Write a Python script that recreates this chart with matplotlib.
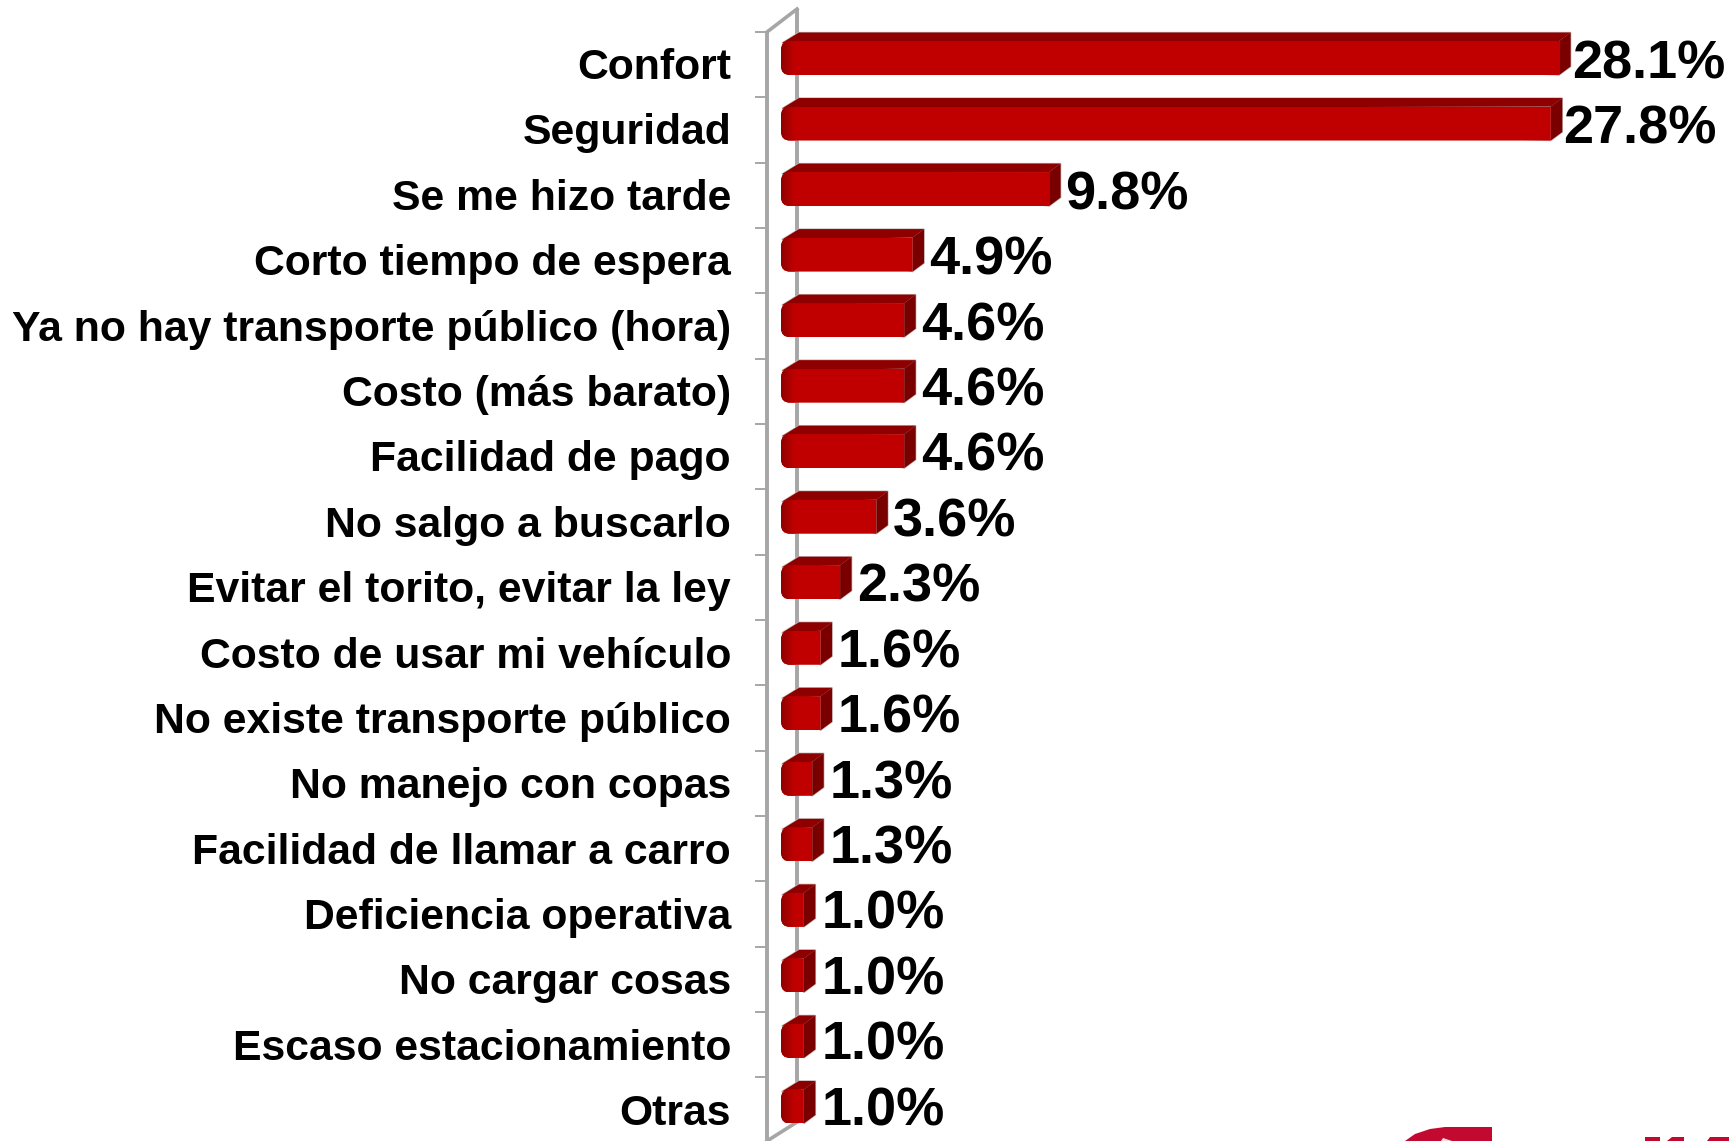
import matplotlib
matplotlib.use("Agg")
import matplotlib.pyplot as plt
import numpy as np
from matplotlib.patches import Polygon
from matplotlib.path import Path

categories = ["Confort", "Seguridad", "Se me hizo tarde", "Corto tiempo de espera",
              "Ya no hay transporte público (hora)", "Costo (más barato)", "Facilidad de pago",
              "No salgo a buscarlo", "Evitar el torito, evitar la ley", "Costo de usar mi vehículo",
              "No existe transporte público", "No manejo con copas", "Facilidad de llamar a carro",
              "Deficiencia operativa", "No cargar cosas", "Escaso estacionamiento", "Otras"]
values = [28.1, 27.8, 9.8, 4.9, 4.6, 4.6, 4.6, 3.6, 2.3, 1.6, 1.6, 1.3, 1.3, 1.0, 1.0, 1.0, 1.0]
value_labels = ["28.1%", "27.8%", "9.8%", "4.9%", "4.6%", "4.6%", "4.6%", "3.6%", "2.3%",
                "1.6%", "1.6%", "1.3%", "1.3%", "1.0%", "1.0%", "1.0%", "1.0%"]

W, H = 1729, 1141
plt.rcParams['font.family'] = ['Liberation Sans', 'DejaVu Sans']
fig = plt.figure(figsize=(W / 100, H / 100), dpi=100)

X0, PX_PER = 776.0, 27.87     # pixel of 0 %, pixels per 1 %
Y0, PX_ROW = 58.0, 65.53      # pixel of first row centre, pixels per row
ax = fig.add_axes([0, 0, 1, 1])
ax.axis("off")

def dx(p):  # pixels -> data units
    return p / PX_PER
def dy(p):
    return p / PX_ROW

FRONT, TOP, SIDE, EDGE = "#c00000", "#8e0000", "#7a0000", "#c4b4b4"
BAR_H = dy(34)
DEPTH_X, DEPTH_Y = dx(11.5), dy(8.5)
START = dx(5)
RAD = dx(9)
n = len(values)

# 3-D axis wall
wall = "#a6a6a6"
fx, bx = dx(767 - X0), dx(797 - X0)
ytop, ytopb = dy(32 - Y0), dy(9 - Y0)
ybot, ybotb = dy(1141 - Y0), dy(1122 - Y0)
ax.plot([fx, fx], [ytop, ybot + dy(3)], color=wall, lw=2.8, zorder=1, solid_capstyle="butt")
ax.plot([bx, bx], [ytopb, ybotb], color=wall, lw=2.8, zorder=1, solid_capstyle="butt")
ax.plot([fx, bx], [ytop, ytopb], color=wall, lw=2.6, zorder=1)
ax.plot([fx, bx], [ybot, ybotb], color=wall, lw=2.6, zorder=1)
for i in range(n):
    yy = dy(32 + 65.34 * i - Y0)
    ax.plot([dx(756 - X0), fx], [yy, yy], color=wall, lw=1.4, zorder=1)

grad = np.linspace(0, 1, 32).reshape(1, -1)
cmap = matplotlib.colors.LinearSegmentedColormap.from_list("cap", ["#900000", "#c00000"])

bars = ax.barh(range(n), values, height=BAR_H, color=FRONT, zorder=3, linewidth=0)
for i, (v, b) in enumerate(zip(values, bars)):
    top, bot = i - BAR_H / 2, i + BAR_H / 2
    r_y = RAD * PX_PER / PX_ROW
    chamfer = [(START + dx(1), top + dy(2)), (START + dx(18), top - DEPTH_Y),
               (v + DEPTH_X, top - DEPTH_Y), (v + DEPTH_X, bot - DEPTH_Y), (v, bot)]
    ax.add_patch(Polygon(chamfer, closed=True, fc=EDGE, ec=EDGE, lw=1.0, zorder=1.9))
    ax.add_patch(Polygon([(START + dx(1), top + dy(2)), (START + dx(18), top - DEPTH_Y),
                          (v + DEPTH_X, top - DEPTH_Y), (v, top)],
                         closed=True, fc=TOP, ec="none", zorder=2))
    ax.add_patch(Polygon([(v, top), (v + DEPTH_X, top - DEPTH_Y), (v + DEPTH_X, bot - DEPTH_Y), (v, bot)],
                         closed=True, fc=SIDE, ec="none", zorder=2.1))
    verts = [(START + RAD, top), (v, top), (v, bot), (START + RAD, bot),
             (START, bot), (START, bot - r_y), (START, top + r_y), (START, top), (START + RAD, top)]
    codes = [Path.MOVETO, Path.LINETO, Path.LINETO, Path.LINETO,
             Path.CURVE3, Path.CURVE3, Path.LINETO, Path.CURVE3, Path.CURVE3]
    clip = matplotlib.patches.PathPatch(Path(verts, codes), transform=ax.transData, fc="none", ec="none")
    ax.add_patch(clip)
    b.set_clip_path(clip)
    im = ax.imshow(grad, extent=[START, START + dx(14), bot, top], cmap=cmap, aspect="auto", zorder=3.5)
    im.set_clip_path(clip)
    ax.text(v + dx(17.5 - 0.17 * v), i + dy(1 - 0.12 * i), value_labels[i], fontsize=39, fontweight="bold",
            color="black", ha="left", va="center_baseline", zorder=5)
    ax.text(dx(731 - X0), i + dy(5.5 - 0.14 * i), categories[i], fontsize=30.8, fontweight="bold",
            color="black", ha="right", va="center_baseline", zorder=5)

ax.set_xlim(-X0 / PX_PER, (W - X0) / PX_PER)
ax.set_ylim((H - Y0) / PX_ROW, -Y0 / PX_ROW)

# cropped logo fragment along the bottom edge (figure pixels)
logo = "#c20a30"
def figpoly(pts, color):
    fig.add_artist(Polygon([(x / W, 1 - y / H) for x, y in pts], closed=True, fc=color, ec="none",
                           transform=fig.transFigure))
figpoly([(1405, 1141), (1415, 1134), (1430, 1129), (1445, 1127), (1492, 1127), (1492, 1141)], logo)
figpoly([(1441, 1141), (1443, 1138), (1452, 1141)], "#f0e0e4")
figpoly([(1645, 1141), (1645, 1137), (1660, 1137), (1660, 1141)], logo)
figpoly([(1667, 1141), (1672, 1137), (1684, 1137), (1684, 1141)], logo)
figpoly([(1707, 1141), (1710, 1137), (1729, 1137), (1729, 1141)], logo)

fig.savefig("out.png", dpi=100, facecolor="white")
